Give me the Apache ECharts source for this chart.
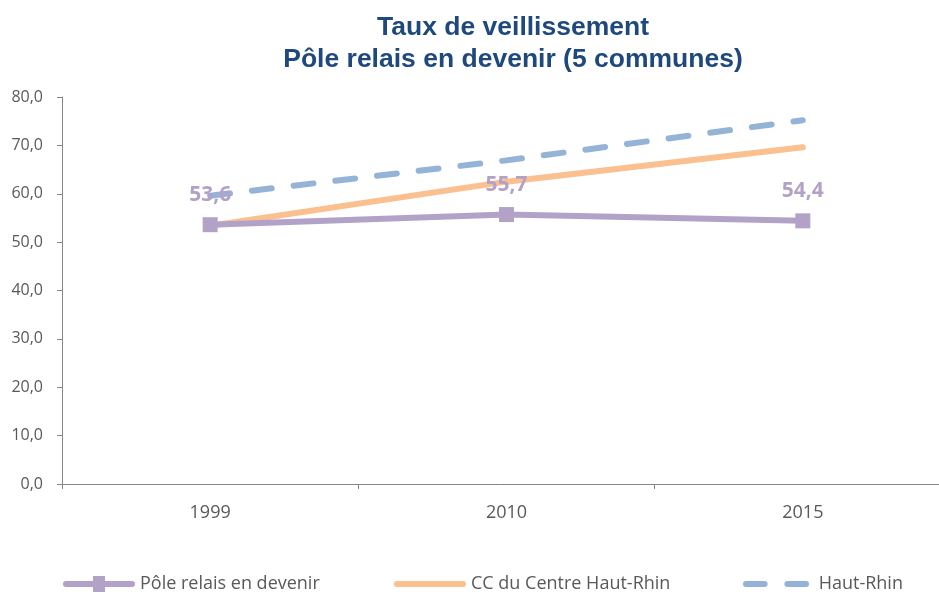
<!DOCTYPE html>
<html>
<head>
<meta charset="utf-8">
<script src="https://cdn.jsdelivr.net/npm/echarts@6/dist/echarts.min.js"></script>
<style>
  html, body { margin: 0; padding: 0; background: #fff; overflow: hidden; }
  #chart_block { width: 939px; height: 592px; }
</style>
</head>
<body>
<div id="chart_block"></div>
<script>
var years = ['1999', '2010', '2015'];
var pole = [53.6, 55.7, 54.4];
var ccCentre = [53.4, 62.5, 69.6];
var hautRhin = [59.6, 66.9, 75.2];

var poleColor = '#b3a2c7';
var ccColor = '#fac090';
var hrColor = '#95b3d7';
var textColor = '#595959';
var fontUi = 'Open Sans, Lato, sans-serif';

var chartDom = document.getElementById('chart_block');
var myChart = echarts.init(chartDom);

function fmt(v) {
  return v.toFixed(1).replace('.', ',');
}

var legendText = { color: textColor, fontSize: 18, fontFamily: fontUi };

// legend icons drawn as paths (line + square, plain line, two dashes)
var iconPole = 'path://M3,5H30V0H42V5H69A3,3 0 0 1 69,11H42V16H30V11H3A3,3 0 0 1 3,5Z';
var iconCc = 'path://M3,0H69A3,3 0 0 1 69,6H3A3,3 0 0 1 3,0Z';
var iconHr = 'path://M3,0H22A3,3 0 0 1 22,6H3A3,3 0 0 1 3,0Z M45,0H64A3,3 0 0 1 64,6H45A3,3 0 0 1 45,0Z';

var option = {
  animation: false,
  title: {
    text: 'Taux de veillissement\nPôle relais en devenir (5 communes)',
    left: 508,
    textAlign: 'center',
    top: 7,
    textStyle: {
      color: '#1f497d',
      fontSize: 26.5,
      fontWeight: 'bold',
      fontFamily: 'Liberation Sans, Arial, sans-serif',
      lineHeight: 32
    }
  },
  legend: [
    {
      data: [{ name: 'Pôle relais en devenir', icon: iconPole }],
      left: 63, top: 575, padding: 0,
      itemWidth: 72, itemHeight: 16,
      textStyle: legendText
    },
    {
      data: [{ name: 'CC du Centre Haut-Rhin', icon: iconCc }],
      left: 394, top: 575, padding: 0,
      itemWidth: 72, itemHeight: 6,
      textStyle: legendText
    },
    {
      data: [{ name: 'Haut-Rhin', icon: iconHr }],
      left: 743, top: 575, padding: 0,
      itemWidth: 66, itemHeight: 6,
      formatter: function (n) { return ' ' + n; },
      textStyle: legendText
    }
  ],
  grid: {
    left: 62,
    width: 889,
    top: 97,
    bottom: 108,
    outerBoundsMode: 'none'
  },
  xAxis: {
    type: 'category',
    data: years,
    boundaryGap: true,
    axisLine: { lineStyle: { color: '#868686', width: 1 } },
    axisTick: { show: true, length: 5, lineStyle: { color: '#868686' } },
    axisLabel: { color: textColor, fontSize: 18, fontFamily: fontUi, margin: 20 }
  },
  yAxis: {
    type: 'value',
    min: 0,
    max: 80,
    interval: 10,
    splitLine: { show: false },
    axisLine: { show: true, lineStyle: { color: '#868686', width: 1 } },
    axisTick: { show: true, length: 5, lineStyle: { color: '#868686' } },
    axisLabel: {
      color: textColor, fontSize: 16, fontFamily: fontUi, margin: 19,
      formatter: function (v) { return fmt(v); }
    }
  },
  series: [
    {
      name: 'Haut-Rhin',
      type: 'line',
      data: hautRhin,
      symbol: 'none',
      z: 1,
      lineStyle: { color: hrColor, width: 6, type: [20, 22], cap: 'round' },
      itemStyle: { color: hrColor }
    },
    {
      name: 'CC du Centre Haut-Rhin',
      type: 'line',
      data: ccCentre,
      symbol: 'none',
      z: 2,
      lineStyle: { color: ccColor, width: 6, cap: 'round' },
      itemStyle: { color: ccColor }
    },
    {
      name: 'Pôle relais en devenir',
      type: 'line',
      data: pole,
      symbol: 'rect',
      symbolSize: 15,
      z: 3,
      lineStyle: { color: poleColor, width: 6 },
      itemStyle: { color: poleColor },
      label: {
        show: true,
        position: 'top',
        distance: 12,
        color: poleColor,
        fontSize: 21,
        fontWeight: 'bold',
        fontFamily: fontUi,
        formatter: function (p) { return fmt(p.value); }
      }
    }
  ]
};

myChart.setOption(option);
</script>
</body>
</html>
